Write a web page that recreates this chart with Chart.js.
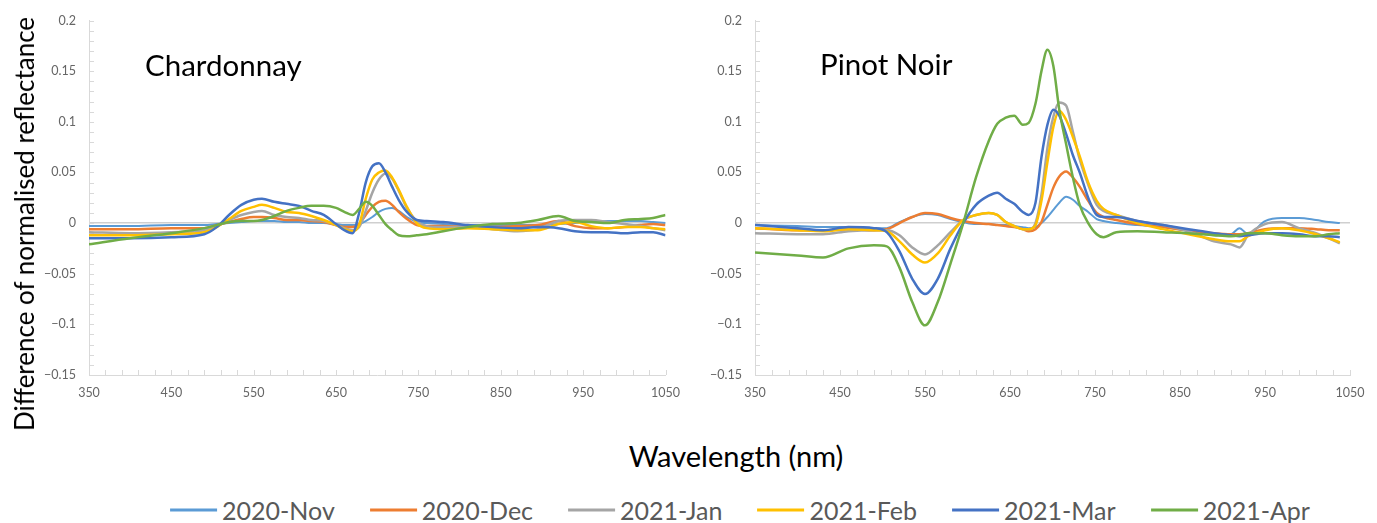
<!DOCTYPE html>
<html>
<head>
<meta charset="utf-8">
<script src="https://cdn.jsdelivr.net/npm/chart.js@4.4.1/dist/chart.umd.min.js"></script>
<style>
  html, body { margin: 0; padding: 0; background: #fff; }
  #wrap { position: relative; width: 1377px; height: 523px; background: #fff; font-family: 'Lato', sans-serif; }
  canvas { position: absolute; top: 0; }
  .txt { position: absolute; white-space: nowrap; line-height: 1; }
  #ytitle { left: 24px; top: 224px; font-size: 26px; color: #000; transform: translate(-50%, -50%) rotate(-90deg); }
  #xtitle { left: 736px; top: 455px; font-size: 29px; color: #000; transform: translate(-50%, -50%); }
  .panel { font-size: 29.5px; color: #000; }
  #legend { position: absolute; left: 740px; top: 510px; transform: translate(-50%, -50%); display: flex; gap: 35px;
            white-space: nowrap; font-size: 25px; color: #595959; line-height: 1; }
  #legend .item { display: flex; align-items: center; }
  #legend .item i { display: inline-block; width: 47px; height: 3px; margin-right: 5px; }
</style>
</head>
<body>
<div id="wrap">
  <canvas id="chardChart" width="690" height="410" style="left:0"></canvas>
  <canvas id="pinotChart" width="687" height="410" style="left:690px"></canvas>
  <div class="txt" id="ytitle">Difference of normalised reflectance</div>
  <div class="txt panel" style="left:145px; top:50px">Chardonnay</div>
  <div class="txt panel" style="left:820px; top:49px">Pinot Noir</div>
  <div class="txt" id="xtitle">Wavelength (nm)</div>
  <div id="legend"></div>
</div>
<script>
// Series names and colours (Excel default palette)
const seriesNames = ['2020-Nov', '2020-Dec', '2021-Jan', '2021-Feb', '2021-Mar', '2021-Apr'];
const seriesColors = ['#5B9BD5', '#ED7D31', '#A5A5A5', '#FFC000', '#4472C4', '#70AD47'];

// Axis ticks
const xTicks = [350, 450, 550, 650, 750, 850, 950, 1050];
const yTicks = [-0.15, -0.1, -0.05, 0, 0.05, 0.1, 0.15, 0.2];
const yTickLabels = ['\u22120.15', '\u22120.1', '\u22120.05', '0', '0.05', '0.1', '0.15', '0.2'];

// Chardonnay - wavelengths (nm) and differences
const chardWl = [350, 400, 450, 490, 505, 520, 535, 550, 560, 575, 590, 605, 620, 635, 650, 660, 670, 678, 686, 694,
                 702, 710, 718, 726, 736, 748, 760, 780, 810, 840, 870, 895, 920, 940, 960, 980, 1000, 1020, 1035, 1050];
const chardNov = [-0.003, -0.003, -0.002, -0.002, -0.001, 0.000, 0.001, 0.002, 0.002, 0.002, 0.001, 0.001, 0.000, 0.000, -0.001, -0.002, -0.002, -0.001, 0.002, 0.006,
                  0.011, 0.014, 0.015, 0.012, 0.006, 0.001, 0.000, -0.001, -0.002, -0.002, -0.002, -0.002, -0.001, 0.000, 0.001, 0.002, 0.002, 0.002, 0.001, 0.000];
const chardDec = [-0.006, -0.006, -0.005, -0.005, -0.002, 0.001, 0.004, 0.006, 0.006, 0.005, 0.003, 0.003, 0.002, 0.001, -0.002, -0.004, -0.004, -0.001, 0.008, 0.016,
                  0.021, 0.022, 0.018, 0.011, 0.004, -0.002, -0.003, -0.003, -0.004, -0.004, -0.003, -0.002, 0.002, -0.003, -0.005, -0.005, -0.004, -0.002, -0.001, -0.002];
const chardJan = [-0.009, -0.010, -0.009, -0.007, -0.003, 0.003, 0.008, 0.011, 0.012, 0.008, 0.006, 0.005, 0.003, 0.002, -0.002, -0.005, -0.007, -0.004, 0.012, 0.030,
                  0.043, 0.049, 0.044, 0.032, 0.015, 0.002, -0.003, -0.004, -0.004, -0.006, -0.008, -0.006, 0.002, 0.003, 0.003, 0.001, -0.001, -0.003, -0.005, -0.007];
const chardFeb = [-0.012, -0.012, -0.011, -0.009, -0.004, 0.004, 0.012, 0.016, 0.018, 0.015, 0.011, 0.010, 0.007, 0.003, -0.002, -0.006, -0.008, -0.002, 0.024, 0.043,
                  0.050, 0.052, 0.045, 0.033, 0.016, 0.000, -0.005, -0.006, -0.005, -0.006, -0.007, -0.007, -0.001, 0.001, -0.003, -0.005, -0.004, -0.004, -0.005, -0.006];
const chardMar = [-0.015, -0.015, -0.014, -0.011, -0.004, 0.008, 0.018, 0.023, 0.024, 0.021, 0.019, 0.017, 0.012, 0.008, -0.001, -0.007, -0.010, 0.010, 0.040, 0.056,
                  0.059, 0.050, 0.036, 0.023, 0.011, 0.003, 0.002, 0.001, -0.002, -0.004, -0.005, -0.004, -0.005, -0.008, -0.009, -0.009, -0.010, -0.009, -0.009, -0.012];
const chardApr = [-0.021, -0.015, -0.010, -0.005, -0.002, 0.001, 0.002, 0.002, 0.003, 0.007, 0.012, 0.015, 0.017, 0.017, 0.015, 0.011, 0.008, 0.014, 0.021, 0.017,
                  0.008, -0.001, -0.007, -0.012, -0.013, -0.012, -0.011, -0.008, -0.004, -0.001, 0.000, 0.003, 0.007, 0.002, 0.001, 0.000, 0.003, 0.004, 0.005, 0.008];

// Pinot Noir - wavelengths (nm) and differences
const pinotWl = [350, 400, 430, 460, 490, 505, 520, 535, 550, 565, 580, 595, 610, 625, 635, 645, 655, 665, 672, 680, 687, 694,
                 701, 708, 716, 724, 732, 742, 752, 760, 775, 800, 830, 860, 890, 910, 920, 930, 950, 970, 990, 1010, 1025, 1038];
const pinotNov = [-0.002, -0.003, -0.004, -0.004, -0.005, -0.005, 0.001, 0.006, 0.009, 0.008, 0.004, 0.001, -0.001, -0.001, -0.002, -0.002, -0.003, -0.004, -0.005, -0.004, 0.000, 0.006,
                  0.013, 0.020, 0.026, 0.023, 0.017, 0.011, 0.004, 0.002, 0.000, -0.002, -0.004, -0.008, -0.012, -0.011, -0.005, -0.011, 0.002, 0.005, 0.005, 0.003, 0.001, 0.000];
const pinotDec = [-0.005, -0.007, -0.007, -0.006, -0.007, -0.006, 0.000, 0.006, 0.010, 0.009, 0.005, 0.002, 0.000, -0.001, -0.002, -0.003, -0.004, -0.006, -0.008, -0.006, 0.001, 0.018,
                  0.035, 0.046, 0.051, 0.045, 0.036, 0.022, 0.010, 0.006, 0.003, -0.001, -0.004, -0.007, -0.010, -0.011, -0.011, -0.010, -0.006, -0.005, -0.005, -0.006, -0.007, -0.007];
const pinotJan = [-0.010, -0.011, -0.011, -0.008, -0.007, -0.007, -0.012, -0.024, -0.031, -0.022, -0.009, 0.003, 0.008, 0.010, 0.008, 0.001, -0.003, -0.006, -0.006, 0.000, 0.028, 0.074,
                  0.105, 0.119, 0.116, 0.090, 0.063, 0.038, 0.018, 0.012, 0.008, 0.002, -0.002, -0.008, -0.018, -0.021, -0.024, -0.012, -0.001, 0.001, -0.005, -0.010, -0.015, -0.020];
const pinotFeb = [-0.005, -0.007, -0.008, -0.006, -0.007, -0.008, -0.018, -0.031, -0.039, -0.030, -0.012, 0.003, 0.008, 0.010, 0.008, 0.001, -0.003, -0.006, -0.006, -0.002, 0.022, 0.060,
                  0.095, 0.111, 0.102, 0.085, 0.066, 0.040, 0.022, 0.014, 0.008, 0.000, -0.006, -0.011, -0.016, -0.018, -0.018, -0.013, -0.007, -0.005, -0.007, -0.011, -0.015, -0.019];
const pinotMar = [-0.002, -0.005, -0.007, -0.004, -0.005, -0.009, -0.028, -0.055, -0.070, -0.055, -0.025, 0.000, 0.018, 0.027, 0.030, 0.024, 0.019, 0.011, 0.008, 0.020, 0.065, 0.097,
                  0.112, 0.106, 0.088, 0.067, 0.050, 0.025, 0.008, 0.006, 0.006, 0.002, -0.002, -0.006, -0.010, -0.012, -0.013, -0.012, -0.010, -0.010, -0.011, -0.013, -0.013, -0.014];
const pinotApr = [-0.029, -0.032, -0.034, -0.025, -0.022, -0.023, -0.044, -0.078, -0.101, -0.078, -0.040, 0.000, 0.045, 0.081, 0.098, 0.104, 0.106, 0.097, 0.099, 0.118, 0.150, 0.171,
                  0.155, 0.112, 0.078, 0.045, 0.018, 0.000, -0.011, -0.014, -0.009, -0.008, -0.009, -0.010, -0.012, -0.013, -0.012, -0.010, -0.010, -0.012, -0.013, -0.013, -0.011, -0.010];

// Small inside tick marks like Excel (every 20 nm and every 0.01)
const minorTicks = {
    id: 'minorTicks',
    beforeDatasetsDraw(chart) {
        const {ctx, scales: {x, y}} = chart;
        ctx.save();
        ctx.strokeStyle = '#d9d9d9';
        ctx.lineWidth = 1;
        ctx.beginPath();
        for (let v = 350; v <= 1050; v += 20) {
            const px = Math.round(x.getPixelForValue(v)) + 0.5;
            ctx.moveTo(px, y.bottom);
            ctx.lineTo(px, y.bottom - 5);
        }
        for (let k = -15; k <= 20; k++) {
            const py = Math.round(y.getPixelForValue(k / 100)) + 0.5;
            ctx.moveTo(x.left, py);
            ctx.lineTo(x.left + 5, py);
        }
        ctx.stroke();
        ctx.restore();
    }
};

const tickFont = {family: 'Lato', size: 12.5};

function makeChart(id, wl, series, padTop, padRight, yWidth) {
    return new Chart(document.getElementById(id), {
        type: 'line',
        data: {
            datasets: series.map((vals, i) => ({
                label: seriesNames[i],
                data: wl.map((w, j) => ({x: w, y: vals[j]})),
                borderColor: seriesColors[i],
                borderWidth: i === 0 ? 2 : 2.5,
                pointRadius: 0,
                cubicInterpolationMode: 'monotone',
                order: series.length - i
            }))
        },
        options: {
            responsive: false,
            animation: false,
            events: [],
            layout: {padding: {top: padTop, right: padRight, left: 0, bottom: 0}},
            plugins: {legend: {display: false}, tooltip: {enabled: false}},
            scales: {
                x: {
                    type: 'linear', min: 350, max: 1050,
                    afterBuildTicks: s => { s.ticks = xTicks.map(v => ({value: v})); },
                    afterFit: s => { s.height = 35; },
                    ticks: {autoSkip: false, maxRotation: 0, padding: 10, color: '#666', font: tickFont,
                            callback: v => String(v)},
                    grid: {drawOnChartArea: false, drawTicks: false},
                    border: {color: '#d9d9d9'}
                },
                y: {
                    min: -0.15, max: 0.2,
                    afterBuildTicks: s => { s.ticks = yTicks.map(v => ({value: v})); },
                    afterFit: s => { s.width = yWidth; },
                    ticks: {autoSkip: false, padding: 13, color: '#666', font: tickFont,
                            callback: (v, i) => yTickLabels[i]},
                    grid: {color: c => (c.tick && c.tick.value === 0) ? '#cfcfcf' : 'rgba(0,0,0,0)',
                           lineWidth: 1.5, drawTicks: false},
                    border: {color: '#d9d9d9'}
                }
            }
        },
        plugins: [minorTicks]
    });
}

makeChart('chardChart', chardWl, [chardNov, chardDec, chardJan, chardFeb, chardMar, chardApr], 17, 18, 89);
makeChart('pinotChart', pinotWl, [pinotNov, pinotDec, pinotJan, pinotFeb, pinotMar, pinotApr], 18, 27, 65);

// Legend under both panels
const legend = document.getElementById('legend');
seriesNames.forEach((name, i) => {
    const item = document.createElement('span');
    item.className = 'item';
    item.innerHTML = '<i style="background:' + seriesColors[i] + '"></i>' + name;
    legend.appendChild(item);
});
</script>
</body>
</html>
